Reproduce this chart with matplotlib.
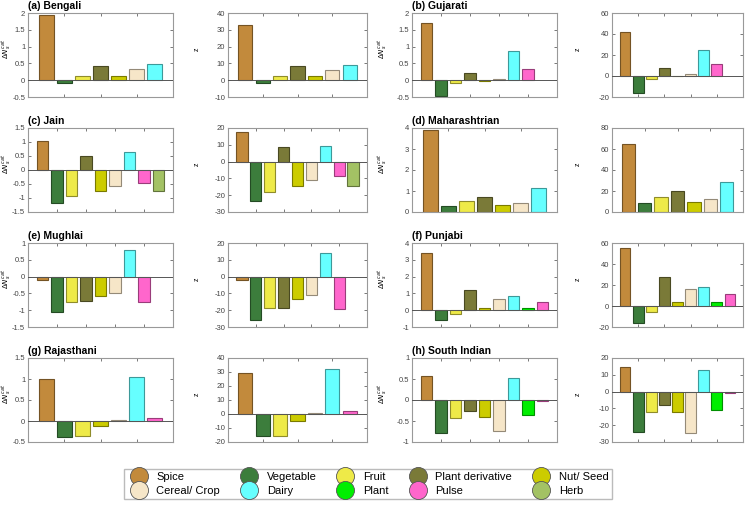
import matplotlib
matplotlib.use("Agg")
import matplotlib.pyplot as plt
from matplotlib.lines import Line2D
from matplotlib.colors import to_rgb
import numpy as np

plt.rcParams["font.family"] = ["Liberation Sans", "DejaVu Sans"]

categories = ["Spice", "Vegetable", "Fruit", "Plant derivative", "Nut/ Seed",
              "Cereal/ Crop", "Dairy", "Plant", "Pulse", "Herb"]
colors = ["#C28A3C", "#3C7D3C", "#EEEA48", "#7A7A38", "#CCCC00",
          "#F6E6C8", "#66FFFF", "#00EE00", "#FF66CC", "#A3C264"]

titles = ["(a) Bengali", "(b) Gujarati", "(c) Jain", "(d) Maharashtrian",
          "(e) Mughlai", "(f) Punjabi", "(g) Rajasthani", "(h) South Indian"]

bengali_cats = [0, 1, 2, 3, 4, 5, 6]
bengali_dn = [1.95, -0.09, 0.12, 0.43, 0.12, 0.33, 0.48]
bengali_z = [32.7, -1.8, 2.4, 8.3, 2.4, 6.3, 9.3]

gujarati_cats = [0, 1, 2, 3, 4, 5, 6, 8]
gujarati_dn = [1.70, -0.46, -0.07, 0.22, -0.01, 0.04, 0.86, 0.34]
gujarati_z = [41.9, -16.5, -2.6, 7.7, -0.3, 1.6, 24.5, 11.6]

jain_cats = [0, 1, 2, 3, 4, 5, 6, 8, 9]
jain_dn = [1.05, -1.18, -0.93, 0.49, -0.74, -0.56, 0.64, -0.47, -0.74]
jain_z = [17.6, -23.4, -18.0, 8.6, -14.4, -11.2, 9.4, -8.8, -14.4]

maharashtrian_cats = [0, 1, 2, 3, 4, 5, 6]
maharashtrian_dn = [3.92, 0.30, 0.50, 0.70, 0.35, 0.45, 1.14]
maharashtrian_z = [64.6, 9.0, 14.0, 20.2, 9.9, 12.5, 28.2]

mughlai_cats = [0, 1, 2, 3, 4, 5, 6, 8]
mughlai_dn = [-0.10, -1.05, -0.77, -0.73, -0.58, -0.50, 0.78, -0.77]
mughlai_z = [-2.0, -25.6, -18.4, -18.4, -13.4, -11.2, 14.0, -19.2]

punjabi_cats = [0, 1, 2, 3, 4, 5, 6, 7, 8]
punjabi_dn = [3.42, -0.56, -0.20, 1.20, 0.14, 0.68, 0.82, 0.14, 0.46]
punjabi_z = [55.2, -15.8, -5.5, 27.4, 3.9, 16.5, 17.7, 3.9, 11.6]

rajasthani_cats = [0, 1, 2, 4, 5, 6, 8]
rajasthani_dn = [1.00, -0.39, -0.36, -0.12, 0.02, 1.04, 0.08]
rajasthani_z = [29.3, -15.6, -15.6, -5.0, 1.0, 32.1, 2.4]

south_cats = [0, 1, 2, 3, 4, 5, 6, 7, 8]
south_dn = [0.57, -0.78, -0.42, -0.26, -0.41, -0.74, 0.52, -0.36, -0.02]
south_z = [14.6, -24.0, -12.4, -8.0, -12.2, -24.4, 13.0, -10.8, -0.6]

# (ylim low, ylim high, tick step) for the ΔN and z panels
dn_limits = [(-0.5, 2, 0.5), (-0.5, 2, 0.5), (-1.5, 1.5, 0.5), (0, 4, 1),
             (-1.5, 1, 0.5), (-1, 4, 1), (-0.5, 1.5, 0.5), (-1, 1, 0.5)]
z_limits = [(-10, 40, 10), (-20, 60, 20), (-30, 20, 10), (0, 80, 20),
            (-30, 20, 10), (-20, 60, 20), (-20, 40, 10), (-30, 20, 10)]

panels = [
    (bengali_cats, bengali_dn, bengali_z),
    (gujarati_cats, gujarati_dn, gujarati_z),
    (jain_cats, jain_dn, jain_z),
    (maharashtrian_cats, maharashtrian_dn, maharashtrian_z),
    (mughlai_cats, mughlai_dn, mughlai_z),
    (punjabi_cats, punjabi_dn, punjabi_z),
    (rajasthani_cats, rajasthani_dn, rajasthani_z),
    (south_cats, south_dn, south_z),
]

W, H = 750, 511
fig = plt.figure(figsize=(W / 100, H / 100), dpi=100)

col_left = [28, 228, 412, 612]
col_width = [145, 139, 145, 131]
label_x = [12, 201, 388, 582]
row_top = [13, 128, 243, 358]
ax_h = 84


def darker(c, f=0.6):
    r, g, b = to_rgb(c)
    return (r * f, g * f, b * f)


def draw(ax, cats, vals, lim, ylabel, lx, left, width):
    n = len(cats)
    xmax = 8 if n <= 7 else 10
    x = np.arange(1, n + 1)
    fc = [colors[i] for i in cats]
    ec = [darker(colors[i]) for i in cats]
    ax.bar(x, vals, width=0.82, color=fc, edgecolor=ec, linewidth=0.8, zorder=2)
    ax.axhline(0, color="#555555", lw=0.7, zorder=3)
    ax.set_xlim(0, xmax)
    ax.set_xticks(np.arange(0, xmax + 1, 2))
    ax.set_xticklabels([])
    lo, hi, step = lim
    ticks = np.arange(lo, hi + step / 2, step)
    ax.set_ylim(lo, hi)
    ax.set_yticks(ticks)
    ax.set_yticklabels(["%g" % t for t in ticks])
    ax.tick_params(direction="in", length=2.5, width=0.5, labelsize=5.5,
                   colors="#444444", top=True, right=True, pad=2)
    for s in ax.spines.values():
        s.set_color("#999999")
        s.set_linewidth(0.8)
    ax.set_ylabel(ylabel, fontsize=5)
    ax.yaxis.set_label_coords((lx - left) / width, 0.57)


for k, (cats, dn, z) in enumerate(panels):
    r, c = k // 2, (k % 2) * 2
    top = row_top[r]
    ax1 = fig.add_axes([col_left[c] / W, 1 - (top + ax_h) / H,
                        col_width[c] / W, ax_h / H])
    draw(ax1, cats, dn, dn_limits[k], r"$\Delta N_s^{cat}$",
         label_x[c], col_left[c], col_width[c])
    ax2 = fig.add_axes([col_left[c + 1] / W, 1 - (top + ax_h) / H,
                        col_width[c + 1] / W, ax_h / H])
    draw(ax2, cats, z, z_limits[k], "z",
         label_x[c + 1], col_left[c + 1], col_width[c + 1])
    fig.text(col_left[c] / W, 1 - (top - 7) / H, titles[k], fontsize=7.5,
             fontweight="bold", va="center", ha="left")

# legend, row-major order in 2 rows x 5 columns
order = [0, 5, 1, 6, 2, 7, 3, 8, 4, 9]
handles = [Line2D([], [], ls="none", marker="o", markersize=13,
                  markerfacecolor=colors[i], markeredgecolor="#555555",
                  markeredgewidth=0.6, label=categories[i]) for i in order]
fig.legend(handles=handles, ncol=5, loc="center",
           bbox_to_anchor=(368 / W, 1 - 484 / H), fontsize=8,
           frameon=True, fancybox=False, edgecolor="#aaaaaa",
           handletextpad=0.6, columnspacing=1.6, labelspacing=0.35,
           borderpad=0.3)

fig.savefig("out.png", dpi=100)
